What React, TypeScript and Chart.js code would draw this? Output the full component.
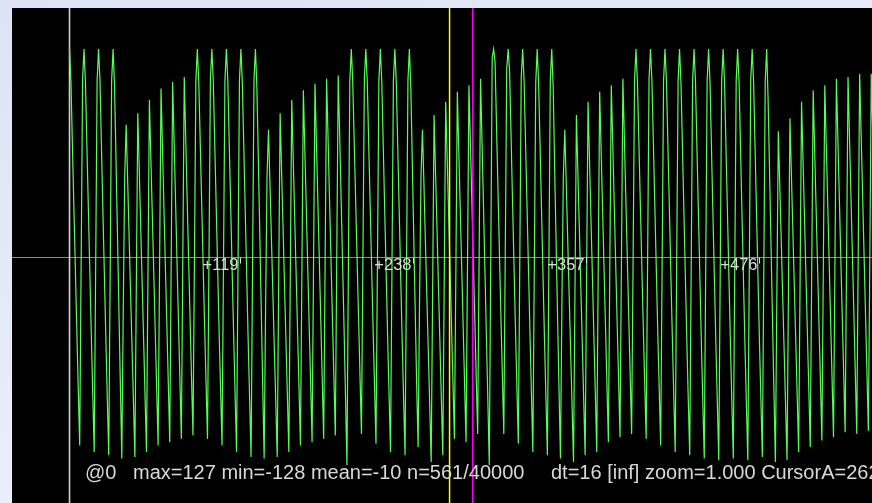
import React, { useEffect, useRef } from "react";
import { Chart, registerables } from "chart.js";
Chart.register(...registerables);

// 8-bit samples, grouped by envelope segment
const groupA = [
  127, 107, 68, 31, -6, -43, -79, -114, -4, 109,
  127, 106, 67, 29, -9, -47, -83, -118, -6, 108,
  127, 107, 67, 28, -10, -49, -85, -120, -8, 108,
  127, 104, 60, 15, -31, -77, -122, -30, 50,
];
const groupB = [
  81, 48, 14, -20, -53, -87, -121, -17,
  88, 54, 19, -15, -49, -84, -118, -11,
  96, 61, 26, -9, -44, -79, -114, -6,
  103, 67, 31, -5, -40, -76, -112, -2,
  107, 71, 35, -2, -38, -74, -110, 1,
  110, 73, 36, -1, -37, -73, -108, -2, 108,
];
const groupC = [
  127, 107, 70, 33, -4, -41, -76, -110, -2, 109,
  127, 107, 69, 31, -7, -45, -80, -114, -4, 108,
  127, 107, 68, 30, -9, -47, -83, -118, -6, 108,
  127, 106, 67, 28, -11, -50, -86, -121, -8, 108,
  127, 104, 60, 15, -31, -77, -122, -30, 50,
];
const groupD = [
  78, 45, 12, -21, -55, -88, -121, -15,
  88, 53, 19, -16, -50, -84, -118, -11,
  96, 61, 26, -9, -44, -79, -114, -7,
  102, 66, 31, -5, -41, -76, -112, -4,
  106, 70, 34, -2, -38, -74, -110, 0,
  109, 73, 36, 0, -36, -72, -108, 2,
  111, 75, 36, -3, -42, -84, -126, -5, 108,
];
const groupE = [
  127, 107, 71, 35, -1, -36, -72, -107, 0, 109,
  127, 107, 69, 32, -6, -43, -78, -113, -3, 108,
  127, 107, 68, 29, -9, -47, -83, -118, -6, 108,
  127, 106, 67, 28, -11, -49, -85, -120, -8, 108,
  127, 103, 58, 13, -32, -77, -115, -25, 50,
];
const groupF = [
  78, 45, 11, -23, -56, -90, -124, -20,
  87, 52, 18, -17, -51, -86, -120, -12,
  95, 61, 27, -7, -41, -76, -110, -8,
  101, 65, 30, -5, -41, -77, -112, -4,
  105, 70, 35, -1, -36, -72, -107, -1,
  109, 71, 32, -7, -47, -86, -126, -3, 122,
];
const groupG = [
  127, 119, 80, 41, 3, -35, -71, -107, 2, 115,
  127, 113, 74, 35, -4, -42, -78, -113, -3, 110,
  127, 107, 69, 31, -7, -45, -82, -118, -5, 107,
  127, 105, 67, 28, -11, -49, -85, -120, -7, 108,
  127, 104, 55, 10, -35, -80, -122, -28, 50,
];
const groupH = [
  78, 45, 11, -23, -56, -90, -124, -20,
  87, 52, 18, -17, -51, -86, -120, -12,
  95, 60, 24, -11, -47, -82, -118, -8,
  101, 66, 30, -6, -41, -77, -112, -4,
  105, 70, 34, -2, -38, -73, -109, -1,
  109, 73, 37, 1, -35, -71, -107, -3, 108,
];
const groupI = [
  127, 107, 70, 33, -4, -41, -76, -110, -2, 109,
  127, 107, 69, 31, -7, -45, -80, -114, -4, 108,
  127, 107, 68, 30, -9, -47, -83, -118, -6, 108,
  127, 106, 67, 28, -11, -50, -86, -120, -8, 108,
  127, 106, 66, 27, -12, -51, -87, -122, -8, 108,
  127, 106, 66, 26, -13, -52, -88, -123, -9, 108,
  127, 106, 66, 27, -12, -51, -87, -122, -8, 108,
  127, 106, 66, 26, -13, -52, -88, -123, -9, 108,
  127, 106, 67, 27, -12, -50, -86, -121, -8, 108,
  127, 95, 51, 7, -38, -82, -124, -22,
];
const groupJ = [
  77, 44, 11, -23, -56, -90, -123, -18,
  85, 51, 17, -17, -50, -84, -118, -12,
  95, 60, 25, -10, -45, -80, -115, -8,
  102, 66, 31, -4, -40, -75, -111, -4,
  105, 69, 34, -2, -38, -73, -109, -1,
  109, 73, 37, 1, -35, -70, -106, 0,
  110, 74, 38, 2, -33, -70, -107, 1,
  112, 76, 40, 3, -33, -69, -105, 0,
  112, 76, 39, 2, -35, -71, -108, 1,
  111,
];

const samples = [
  ...groupA, ...groupB, ...groupC, ...groupD, ...groupE,
  ...groupF, ...groupG, ...groupH, ...groupI, ...groupJ,
];

const tickValues = [119, 238, 357, 476];
const tickLabels = ["+119", "+238", "+357", "+476"];
const originSample = 0;
const cursorA = 262;
const cursorB = 278;
const statusLeft = "@0";
const statusMid = "max=127 min=-128 mean=-10 n=561/40000";
const statusRight = "dt=16 [inf] zoom=1.000 CursorA=262 CursorB=278";

export default function App() {
  const ref = useRef<HTMLCanvasElement | null>(null);

  useEffect(() => {
    if (!ref.current) return;
    const scope = {
      id: "scope",
      beforeDraw(chart: any) {
        const { ctx, width, height } = chart;
        ctx.save();
        ctx.fillStyle = "#000";
        ctx.fillRect(0, 0, width, height);
        ctx.restore();
      },
      beforeDatasetsDraw(chart: any) {
        const { ctx, width, height } = chart;
        const xs = chart.scales.x;
        const ys = chart.scales.y;
        ctx.save();
        const y0 = Math.round(ys.getPixelForValue(0)) - 0.5;
        ctx.strokeStyle = "#8a8a8a";
        ctx.lineWidth = 1;
        ctx.beginPath();
        ctx.moveTo(0, y0);
        ctx.lineTo(width, y0);
        ctx.stroke();
        const xo = xs.getPixelForValue(originSample);
        ctx.strokeStyle = "#d0d0d0";
        ctx.lineWidth = 1.6;
        ctx.beginPath();
        ctx.moveTo(xo, 0);
        ctx.lineTo(xo, height);
        ctx.stroke();
        ctx.restore();
      },
      afterDatasetsDraw(chart: any) {
        const { ctx, height } = chart;
        const xs = chart.scales.x;
        const ys = chart.scales.y;
        ctx.save();
        const y0 = Math.round(ys.getPixelForValue(0)) - 0.5;
        ctx.font = "16.5px 'Liberation Sans', Arial, sans-serif";
        ctx.textAlign = "right";
        ctx.textBaseline = "alphabetic";
        tickValues.forEach((v, i) => {
          const x = Math.round(xs.getPixelForValue(v)) - 1.5;
          ctx.fillStyle = "#dcdcdc";
          ctx.fillText(tickLabels[i], x - 2, y0 + 12.5);
          ctx.strokeStyle = "#dcdcdc";
          ctx.lineWidth = 1;
          ctx.beginPath();
          ctx.moveTo(x, y0);
          ctx.lineTo(x, y0 + 6);
          ctx.stroke();
        });
        const xa = xs.getPixelForValue(cursorA) - 0.5;
        ctx.strokeStyle = "#ffff00";
        ctx.lineWidth = 1.5;
        ctx.beginPath();
        ctx.moveTo(xa, 0);
        ctx.lineTo(xa, height);
        ctx.stroke();
        const xb = xs.getPixelForValue(cursorB) - 0.5;
        ctx.strokeStyle = "#ff00ff";
        ctx.beginPath();
        ctx.moveTo(xb, 0);
        ctx.lineTo(xb, height);
        ctx.stroke();
        ctx.font = "20px 'Liberation Sans', Arial, sans-serif";
        ctx.textAlign = "left";
        ctx.fillStyle = "#d8d8d8";
        const base = height - 24;
        ctx.fillText(statusLeft, 73, base);
        ctx.fillText(statusMid, 121, base);
        ctx.fillText(statusRight, 539, base);
        ctx.restore();
      },
    };

    const chart = new Chart(ref.current, {
      type: "line",
      data: {
        datasets: [
          {
            data: samples.map((v, i) => ({ x: i, y: v })),
            borderColor: "#55ff55",
            borderWidth: 1.2,
            pointRadius: 0,
            tension: 0,
            fill: false,
          },
        ],
      },
      options: {
        animation: false,
        responsive: false,
        events: [],
        layout: { padding: 0 },
        scales: {
          x: { type: "linear", min: -39.6, max: 552.5, display: false },
          y: { min: -149, max: 152, display: false },
        },
        plugins: { legend: { display: false }, tooltip: { enabled: false } },
      },
      plugins: [scope],
    } as any);
    return () => chart.destroy();
  }, []);

  return (
    <div
      style={{
        position: "fixed",
        inset: 0,
        background: "linear-gradient(160deg, #dde3f4 0%, #e8ecf8 50%, #f4f6fc 100%)",
      }}
    >
      <canvas
        ref={ref}
        width={860}
        height={495}
        style={{ position: "absolute", left: 12, top: 8, width: 860, height: 495 }}
      />
    </div>
  );
}
